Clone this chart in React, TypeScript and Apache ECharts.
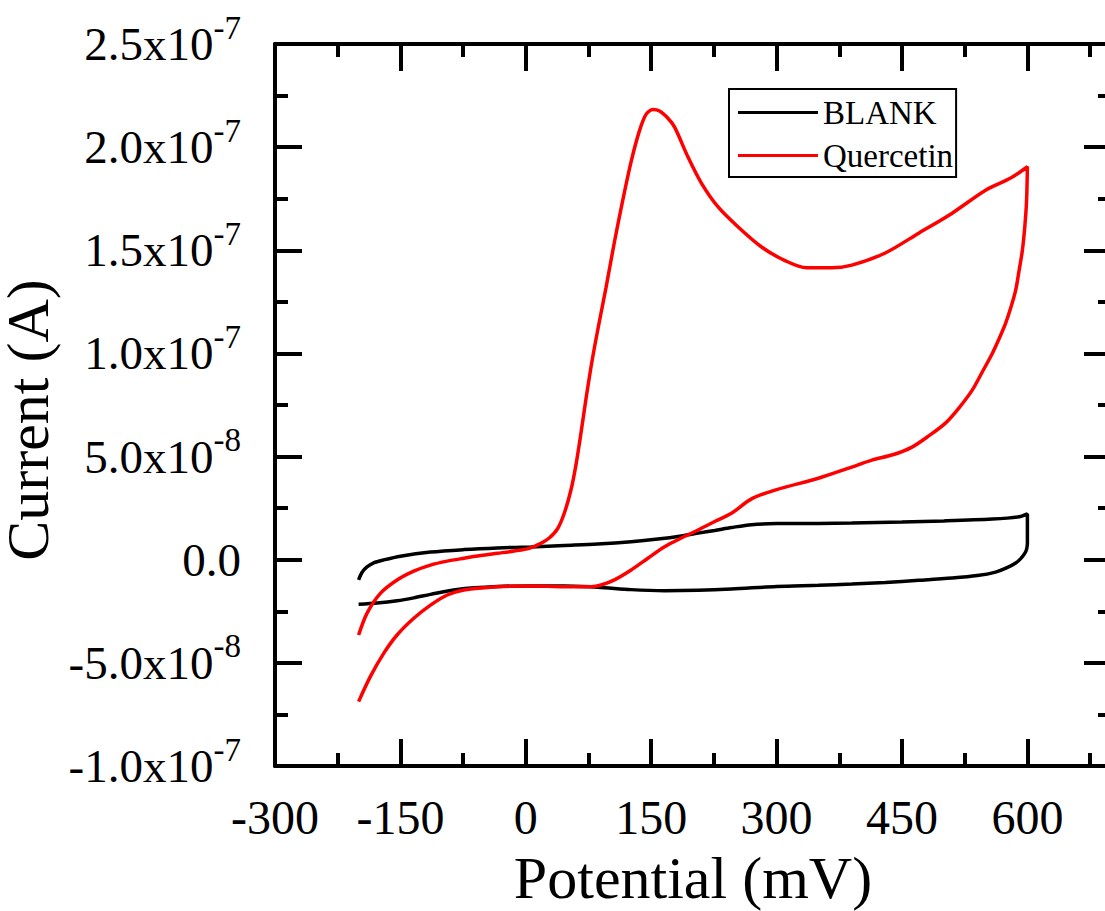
import React, { useEffect, useRef } from 'react';
import * as echarts from 'echarts';

// Potential in mV, current in A
const blankPotential = [
  -200, -196, -190, -182, -170, -150, -114, -74, -34, 6, 46, 86, 126, 158, 186, 206, 226, 246, 270, 300, 350, 390, 450, 500, 558, 590, 600,
  600, 599, 597, 592, 586, 575, 562, 540, 510, 470, 430, 390, 350, 300, 246, 206, 166, 126, 86, 46, 6, -34, -82, -114, -134, -154, -178, -200,
];
const blankCurrent = [
  -0.98e-8, -0.62e-8, -0.35e-8, -0.15e-8, -0.01e-8, 0.17e-8, 0.37e-8, 0.49e-8, 0.57e-8, 0.62e-8, 0.69e-8, 0.76e-8, 0.87e-8, 1.0e-8, 1.15e-8, 1.29e-8, 1.42e-8, 1.56e-8, 1.7e-8, 1.75e-8, 1.76e-8, 1.78e-8, 1.83e-8, 1.88e-8, 1.97e-8, 2.08e-8, 2.22e-8,
  0.81e-8, 0.5e-8, 0.32e-8, 0.05e-8, -0.16e-8, -0.4e-8, -0.6e-8, -0.77e-8, -0.89e-8, -1.0e-8, -1.1e-8, -1.18e-8, -1.24e-8, -1.3e-8, -1.42e-8, -1.48e-8, -1.5e-8, -1.45e-8, -1.33e-8, -1.28e-8, -1.27e-8, -1.3e-8, -1.44e-8, -1.68e-8, -1.85e-8, -1.99e-8, -2.1e-8, -2.16e-8,
];

const quercetinPotential = [
  -200, -190, -174, -154, -134, -114, -94, -74, -54, -34, -14, 4, 18, 28, 38, 46, 54, 60, 66, 72, 78, 84, 90, 96, 106, 116, 126, 136, 144, 152, 160, 170, 178, 194, 210, 230, 254, 282, 310, 336, 366, 390, 430, 470, 510, 550, 580, 600,
  599, 597, 594, 590, 586, 580, 574, 566, 558, 546, 534, 518, 502, 482, 462, 440, 414, 390, 350, 300, 270, 246, 226, 206, 186, 166, 146, 126, 106, 92, 78, 46, 6, -34, -74, -94, -114, -134, -154, -170, -186, -200,
];
const quercetinCurrent = [
  -3.65e-8, -2.6e-8, -1.63e-8, -0.98e-8, -0.55e-8, -0.26e-8, -0.07e-8, 0.07e-8, 0.2e-8, 0.31e-8, 0.42e-8, 0.55e-8, 0.79e-8, 1.05e-8, 1.5e-8, 2.25e-8, 3.38e-8, 4.6e-8, 6.14e-8, 7.8e-8, 9.34e-8, 10.7e-8, 11.96e-8, 13.2e-8, 15.4e-8, 17.43e-8, 19.3e-8, 20.8e-8, 21.6e-8, 21.82e-8, 21.75e-8, 21.4e-8, 20.97e-8, 19.52e-8, 18.26e-8, 17.1e-8, 16.13e-8, 15.16e-8, 14.5e-8, 14.15e-8, 14.15e-8, 14.28e-8, 14.87e-8, 15.83e-8, 16.8e-8, 17.91e-8, 18.5e-8, 19.05e-8,
  17.4e-8, 16.2e-8, 15.0e-8, 14.0e-8, 13.07e-8, 12.2e-8, 11.47e-8, 10.7e-8, 10.0e-8, 9.1e-8, 8.22e-8, 7.35e-8, 6.62e-8, 6.0e-8, 5.46e-8, 5.1e-8, 4.83e-8, 4.49e-8, 3.95e-8, 3.4e-8, 2.95e-8, 2.25e-8, 1.85e-8, 1.44e-8, 1.05e-8, 0.63e-8, 0.07e-8, -0.5e-8, -0.98e-8, -1.2e-8, -1.31e-8, -1.31e-8, -1.27e-8, -1.31e-8, -1.47e-8, -1.71e-8, -2.2e-8, -2.84e-8, -3.65e-8, -4.54e-8, -5.67e-8, -6.88e-8,
];

const xMajorTicks = [-300, -150, 0, 150, 300, 450, 600];
const xMinorTicks = [-225, -75, 75, 225, 375, 525, 675];
const seriesNames = ['BLANK', 'Quercetin'];
const seriesColors = ['#000000', '#ff0000'];

const FONT = "'Liberation Serif', 'Times New Roman', serif";

function pairs(xs: number[], ys: number[]) {
  return xs.map((x, i) => [x, ys[i]]);
}

function yLabel(v: number) {
  if (Math.abs(v) < 1e-12) return '{m|0.0}';
  const [m, e] = v.toExponential(1).split('e');
  return `{m|${m}x10}{s|${e}}`;
}

export default function App() {
  const ref = useRef<HTMLDivElement>(null);
  useEffect(() => {
    const chart = echarts.init(ref.current!, null, { renderer: 'svg' });
    const axisLine = { show: true, onZero: false, lineStyle: { color: '#000', width: 4 } };
    const noLine = { show: false, onZero: false };
    const baseX = { type: 'value', min: -300, max: 700, interval: 150, splitLine: { show: false }, gridIndex: 0 };
    const baseY = { type: 'value', min: -1e-7, max: 2.5e-7, interval: 5e-8, splitLine: { show: false }, minorSplitLine: { show: false }, gridIndex: 0 };
    const majorTick = { show: true, inside: true, length: 27, lineStyle: { color: '#000', width: 4 } };
    const minorTick = { show: true, inside: true, length: 13, lineStyle: { color: '#000', width: 4 } };
    const option: any = {
      animation: false,
      backgroundColor: '#fff',
      grid: { left: 275, top: 44, width: 836, height: 722, containLabel: false, outerBoundsMode: 'none' },
      legend: {
        orient: 'vertical',
        left: 729,
        top: 89,
        padding: [7, 3, 5, 9],
        itemGap: 10,
        itemWidth: 80,
        itemHeight: 3,
        icon: 'rect',
        borderColor: '#000',
        borderWidth: 2,
        data: seriesNames,
        textStyle: { fontFamily: FONT, fontSize: 33, color: '#000' },
      },
      xAxis: [
        {
          ...baseX,
          position: 'bottom',
          axisLine,
          axisTick: { ...majorTick, customValues: xMajorTicks },
          axisLabel: { show: true, customValues: xMajorTicks, fontFamily: FONT, fontSize: 48, color: '#000', margin: 27 },
          name: 'Potential (mV)',
          nameLocation: 'middle',
          nameGap: 82,
          nameTextStyle: { fontFamily: FONT, fontSize: 60, color: '#000' },
        },
        {
          ...baseX,
          position: 'bottom',
          axisLine: noLine,
          axisTick: { ...minorTick, customValues: xMinorTicks },
          axisLabel: { show: false },
        },
        {
          ...baseX,
          position: 'top',
          axisLine,
          axisTick: { ...majorTick, customValues: xMajorTicks },
          axisLabel: { show: false },
        },
        {
          ...baseX,
          position: 'top',
          axisLine: noLine,
          axisTick: { ...minorTick, customValues: xMinorTicks },
          axisLabel: { show: false },
        },
      ],
      yAxis: [
        {
          ...baseY,
          position: 'left',
          axisLine,
          axisTick: majorTick,
          minorTick: { show: true, splitNumber: 2, length: 13, lineStyle: { color: '#000', width: 4 } },
          axisLabel: {
            margin: 34,
            formatter: yLabel,
            rich: {
              m: { fontFamily: FONT, fontSize: 47, color: '#000' },
              s: { fontFamily: FONT, fontSize: 33, color: '#000', padding: [0, 0, 33, 0] },
            },
          },
          name: 'Current (A)',
          nameLocation: 'middle',
          nameGap: 199,
          nameTextStyle: { fontFamily: FONT, fontSize: 60, color: '#000', padding: [0, 30, 0, 0] },
        },
        {
          ...baseY,
          position: 'right',
          axisLine,
          axisTick: majorTick,
          minorTick: { show: true, splitNumber: 2, length: 13, lineStyle: { color: '#000', width: 4 } },
          axisLabel: { show: false },
        },
      ],
      series: [
        {
          name: seriesNames[0],
          type: 'line',
          xAxisIndex: 0,
          yAxisIndex: 0,
          data: pairs(blankPotential, blankCurrent),
          symbol: 'none',
          smooth: 0.3,
          color: seriesColors[0],
          lineStyle: { color: seriesColors[0], width: 3.5 },
        },
        {
          name: seriesNames[1],
          type: 'line',
          xAxisIndex: 0,
          yAxisIndex: 0,
          data: pairs(quercetinPotential, quercetinCurrent),
          symbol: 'none',
          smooth: 0.3,
          color: seriesColors[1],
          lineStyle: { color: seriesColors[1], width: 3.5 },
        },
      ],
    };
    chart.setOption(option);
    return () => chart.dispose();
  }, []);
  return (
    <div
      ref={ref}
      style={{ position: 'absolute', left: 0, top: 0, width: 1105, height: 911, background: '#fff' }}
    />
  );
}
